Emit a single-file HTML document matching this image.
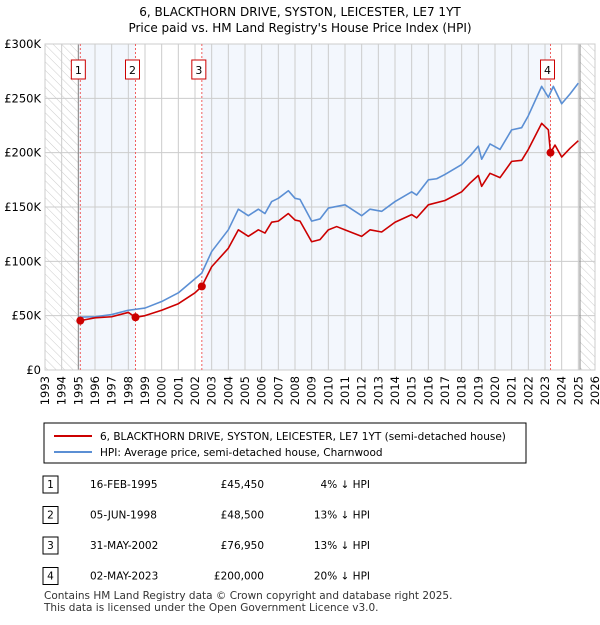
<!DOCTYPE html>
<html><head><meta charset="utf-8"><style>
body{margin:0;background:#fff;font-family:"Liberation Sans","DejaVu Sans",sans-serif;color:#000}
svg text{font-family:"DejaVu Sans","Liberation Sans",sans-serif}
</style></head><body>
<svg id="chart" width="600" height="620" viewBox="0 0 600 620" xmlns="http://www.w3.org/2000/svg">
<defs><pattern id="hatch" width="6" height="6" patternUnits="userSpaceOnUse" patternTransform="rotate(-45)"><line x1="0" y1="0" x2="0" y2="6" stroke="#ccc" stroke-width="1"/></pattern></defs>
<text x="300" y="16" text-anchor="middle" font-size="12">6, BLACKTHORN DRIVE, SYSTON, LEICESTER, LE7 1YT</text>
<text x="300" y="32" text-anchor="middle" font-size="12">Price paid vs. HM Land Registry's House Price Index (HPI)</text>
<g id="plot"></g>
<g>
<rect x="44" y="423" width="482" height="40" fill="#fff" stroke="#000" stroke-width="1"/>
<line x1="54" y1="436" x2="92" y2="436" stroke="#cc0000" stroke-width="2"/>
<text x="100" y="440" font-size="10.5">6, BLACKTHORN DRIVE, SYSTON, LEICESTER, LE7 1YT (semi-detached house)</text>
<line x1="54" y1="452" x2="92" y2="452" stroke="#5b8fd4" stroke-width="2"/>
<text x="100" y="456" font-size="10.5">HPI: Average price, semi-detached house, Charnwood</text>
</g>
<g id="table" font-size="10.5"></g>
<text x="44" y="599" font-size="10.5" fill="#333">Contains HM Land Registry data © Crown copyright and database right 2025.</text>
<text x="44" y="611" font-size="10.5" fill="#333">This data is licensed under the Open Government Licence v3.0.</text>
</svg>
<script>
const hpiYears=[1995,1996,1997,1998,1999,2000,2001,2002,2002.4,2003,2004,2004.6,2005.2,2005.8,2006.2,2006.6,2007,2007.6,2008,2008.3,2009,2009.5,2010,2011,2012,2012.5,2013.2,2014,2015,2015.3,2016,2016.5,2017,2018,2018.5,2019,2019.2,2019.7,2020.3,2021,2021.6,2022,2022.8,2023.2,2023.5,2024,2024.5,2025];
const hpiValues=[48.6,49,51,55,57,63,71,84,89,109,129,148,142,148,144,155,158,165,158,157,137,139,149,152,142,148,146,155,164,161,175,176,180,189,197,206,194,208,203,221,223,234,261,251,261,245,254,264];
const redYears=[1995.12,1996,1997,1998,1998.43,1999,2000,2001,2002,2002.41,2003,2004,2004.6,2005.2,2005.8,2006.2,2006.6,2007,2007.6,2008,2008.3,2009,2009.5,2010,2010.5,2011,2012,2012.5,2013.2,2014,2015,2015.3,2016,2017,2018,2018.5,2019,2019.2,2019.7,2020.3,2021,2021.6,2022,2022.8,2023.2,2023.33,2023.6,2024,2024.5,2025];
const redValues=[45.45,48,49,53,48.5,50,55,61,71,76.95,95,112,129,123,129,126,136,137,144,138,137,118,120,129,132,129,123,129,127,136,143,140,152,156,164,172,179,169,181,177,192,193,203,227,221,200,207,196,204,211];
const saleYears=[1995.12,1998.43,2002.41,2023.33];
const saleValues=[45.45,48.5,76.95,200];
const saleLabels=["1","2","3","4"];
const saleDates=["16-FEB-1995","05-JUN-1998","31-MAY-2002","02-MAY-2023"];
const salePrices=["£45,450","£48,500","£76,950","£200,000"];
const saleHpi=["4% ↓ HPI","13% ↓ HPI","13% ↓ HPI","20% ↓ HPI"];
const yTicks=[0,50,100,150,200,250,300];
const yTickLabels=["£0","£50K","£100K","£150K","£200K","£250K","£300K"];
const x0=45,x1=595,y0=370,y1=44;
const X=y=>x0+(y-1993)/(2026-1993)*(x1-x0);
const Y=v=>y0-v/300*(y0-y1);
const NS="http://www.w3.org/2000/svg";
const plot=document.getElementById('plot');
function mk(tag,attrs,parent){const e=document.createElementNS(NS,tag);for(const k in attrs)e.setAttribute(k,attrs[k]);(parent||plot).appendChild(e);return e;}
// background shading
mk('rect',{x:x0,y:y1,width:x1-x0,height:y0-y1,fill:'#fff'});
let sh=mk('rect',{x:X(1995),y:y1,width:X(1998.43)-X(1995),height:y0-y1,fill:'#eef3fc',opacity:0.7});

sh=mk('rect',{x:X(2002.41),y:y1,width:X(2023.33)-X(2002.41),height:y0-y1,fill:'#eef3fc',opacity:0.7});

mk('rect',{x:x0,y:y1,width:X(1995)-x0,height:y0-y1,fill:'url(#hatch)'});
mk('rect',{x:X(2025.1),y:y1,width:x1-X(2025.1),height:y0-y1,fill:'url(#hatch)'});
// grid
for(let yr=1993;yr<=2026;yr++){
  mk('line',{x1:X(yr),y1:y1,x2:X(yr),y2:y0,stroke:'#ccc','stroke-width':1});
  const t=mk('text',{x:0,y:0,transform:`translate(${X(yr)+4},${y0+6}) rotate(-90)`,'text-anchor':'end','font-size':11.5});
  t.textContent=yr;
  
  
}
yTicks.forEach((v,i)=>{
  mk('line',{x1:x0,y1:Y(v),x2:x1,y2:Y(v),stroke:'#ccc','stroke-width':1});
  const t=mk('text',{x:x0-4,y:Y(v)+4,'text-anchor':'end','font-size':11.5});
  t.textContent=yTickLabels[i];
  
  
});
mk('line',{x1:X(1995),y1:y1,x2:X(1995),y2:y0,stroke:'#888','stroke-width':1});
mk('line',{x1:X(2025.1),y1:y1,x2:X(2025.1),y2:y0,stroke:'#888','stroke-width':1});
mk('rect',{x:x0,y:y1,width:x1-x0,height:y0-y1,fill:'none',stroke:'#ccc'});
// sale lines and labels
saleYears.forEach((yr,i)=>{
  mk('line',{x1:X(yr),y1:y1,x2:X(yr),y2:y0,stroke:'#f06060','stroke-width':1,'stroke-dasharray':'2,2'});
  const bx=X(yr)-(i==3?3:i==0?2:3);
  const g=mk('g',{});
  
  
  mk('rect',{x:bx-7,y:60,width:14,height:19,fill:'#fff',stroke:'#cc0000'},g);
  const t=mk('text',{x:bx,y:74,'text-anchor':'middle','font-size':11},g);t.textContent=saleLabels[i];
});
function line(xs,vs,color,name){
  const p=mk('polyline',{points:xs.map((x,i)=>X(x)+','+Y(vs[i])).join(' '),fill:'none',stroke:color,'stroke-width':1.6,'stroke-linejoin':'round'});
  
  
}
line(hpiYears,hpiValues,'#5b8fd4','hpi-line');
line(redYears,redValues,'#cc0000','price-paid-line');
saleYears.forEach((yr,i)=>{
  const c=mk('circle',{cx:X(yr),cy:Y(saleValues[i]),r:4,fill:'#cc0000'});
  
  
});
// table
const tb=document.getElementById('table');
saleLabels.forEach((l,i)=>{
  const y=484+i*30.5;
  const g=mk('g',{},tb);
  
  
  mk('rect',{x:43,y:y-8,width:15,height:17,fill:'#fff',stroke:'#000'},g);
  let t=mk('text',{x:50.5,y:y+4,'text-anchor':'middle'},g);t.textContent=l;
  t=mk('text',{x:90,y:y+4},g);t.textContent=saleDates[i];
  t=mk('text',{x:264,y:y+4,'text-anchor':'end'},g);t.textContent=salePrices[i];
  t=mk('text',{x:370,y:y+4,'text-anchor':'end'},g);t.textContent=saleHpi[i];
});
</script>
</body></html>
